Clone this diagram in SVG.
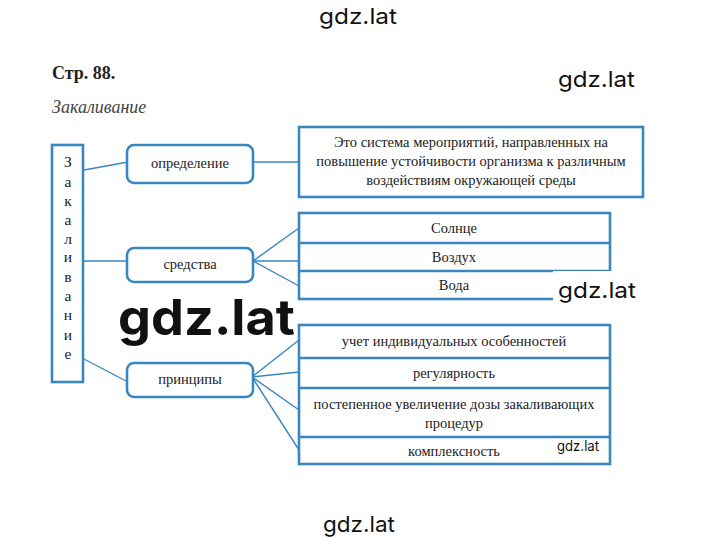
<svg xmlns="http://www.w3.org/2000/svg" width="720" height="541" viewBox="0 0 720 541">
<style>
.box{fill:#fff;stroke:#3a86bf;stroke-width:2.6}
.ln{stroke:#3a86bf;stroke-width:1.4;fill:none}
.t{font-family:"Liberation Serif",serif;font-size:14.5px;fill:#222;text-anchor:middle}
.v{font-family:"Liberation Serif",serif;font-size:15.5px;fill:#222;text-anchor:middle}
.wm{font-family:Inter,"Liberation Sans",sans-serif;fill:#111}
</style>
<rect width="720" height="541" fill="#fff"/>
<text x="52" y="79" font-family="Liberation Serif,serif" font-weight="bold" font-size="18" fill="#222">Стр. 88.</text>
<text x="52" y="113" font-family="Liberation Serif,serif" font-style="italic" font-size="18" fill="#444">Закаливание</text>

<g id="connectors">
<line class="ln" x1="84" y1="170" x2="128" y2="162"/>
<line class="ln" x1="253" y1="162" x2="299" y2="162"/>
<line class="ln" x1="84" y1="261" x2="128" y2="261"/>
<line class="ln" x1="253" y1="261" x2="299" y2="228"/>
<line class="ln" x1="253" y1="261" x2="299" y2="261"/>
<line class="ln" x1="253" y1="261" x2="299" y2="286"/>
<line class="ln" x1="84" y1="359" x2="128" y2="382"/>
<line class="ln" x1="252" y1="377" x2="299" y2="340"/>
<line class="ln" x1="252" y1="377" x2="299" y2="372"/>
<line class="ln" x1="252" y1="377" x2="299" y2="410"/>
<line class="ln" x1="252" y1="377" x2="299" y2="450"/>
</g>

<g id="root">
<rect class="box" x="52" y="145" width="31" height="237"/>
<text class="v" x="68" y="167">З</text>
<text class="v" x="68" y="187">а</text>
<text class="v" x="68" y="206">к</text>
<text class="v" x="68" y="225">а</text>
<text class="v" x="68" y="244">л</text>
<text class="v" x="68" y="262">и</text>
<text class="v" x="68" y="282">в</text>
<text class="v" x="68" y="301">а</text>
<text class="v" x="68" y="320">н</text>
<text class="v" x="68" y="340">и</text>
<text class="v" x="68" y="359">е</text>
</g>

<g id="opredelenie">
<rect class="box" x="127" y="145" width="126" height="38" rx="7"/>
<text class="t" x="190" y="168">определение</text>
</g>
<g id="definition">
<rect class="box" x="299" y="127" width="344" height="70"/>
<text class="t" x="471" y="147">Это система мероприятий, направленных на</text>
<text class="t" x="471" y="166">повышение устойчивости организма к различным</text>
<text class="t" x="471" y="185">воздействиям окружающей среды</text>
</g>

<g id="sredstva">
<rect class="box" x="127" y="248" width="126" height="34" rx="7"/>
<text class="t" x="190" y="269">средства</text>
</g>
<g id="sredstva-list">
<rect class="box" x="299" y="213" width="311" height="86"/>
<line class="box" x1="299" y1="243" x2="610" y2="243"/>
<line class="box" x1="299" y1="271" x2="610" y2="271"/>
<text class="t" x="454" y="233">Солнце</text>
<text class="t" x="454" y="262">Воздух</text>
<text class="t" x="454" y="290">Вода</text>
</g>

<g id="principy">
<rect class="box" x="127" y="363" width="126" height="34" rx="7"/>
<text class="t" x="190" y="384">принципы</text>
</g>
<g id="principy-list">
<rect class="box" x="299" y="325" width="311" height="139"/>
<line class="box" x1="299" y1="358" x2="610" y2="358"/>
<line class="box" x1="299" y1="388" x2="610" y2="388"/>
<line class="box" x1="299" y1="437" x2="610" y2="437"/>
<text class="t" x="454" y="346">учет индивидуальных особенностей</text>
<text class="t" x="454" y="378">регулярность</text>
<text class="t" x="454" y="409">постепенное увеличение дозы закаливающих</text>
<text class="t" x="454" y="428">процедур</text>
<text class="t" x="454" y="456">комплексность</text>
</g>

<g id="watermarks">
<rect x="553" y="271" width="90" height="34" fill="#fff"/>
<rect x="555" y="440" width="46" height="15" fill="#fff"/>
<text class="wm" x="319" y="24" font-size="22" textLength="78" lengthAdjust="spacingAndGlyphs">gdz.lat</text>
<text class="wm" x="558" y="87" font-size="22" textLength="77" lengthAdjust="spacingAndGlyphs">gdz.lat</text>
<text class="wm" x="558" y="298" font-size="22" textLength="78" lengthAdjust="spacingAndGlyphs">gdz.lat</text>
<text class="wm" x="118" y="335" font-size="50" font-weight="bold" textLength="177" lengthAdjust="spacingAndGlyphs">gdz.lat</text>
<text class="wm" x="557" y="451" font-size="14" textLength="42" lengthAdjust="spacingAndGlyphs">gdz.lat</text>
<text class="wm" x="323" y="532" font-size="22" textLength="72" lengthAdjust="spacingAndGlyphs">gdz.lat</text>
</g>
</svg>
